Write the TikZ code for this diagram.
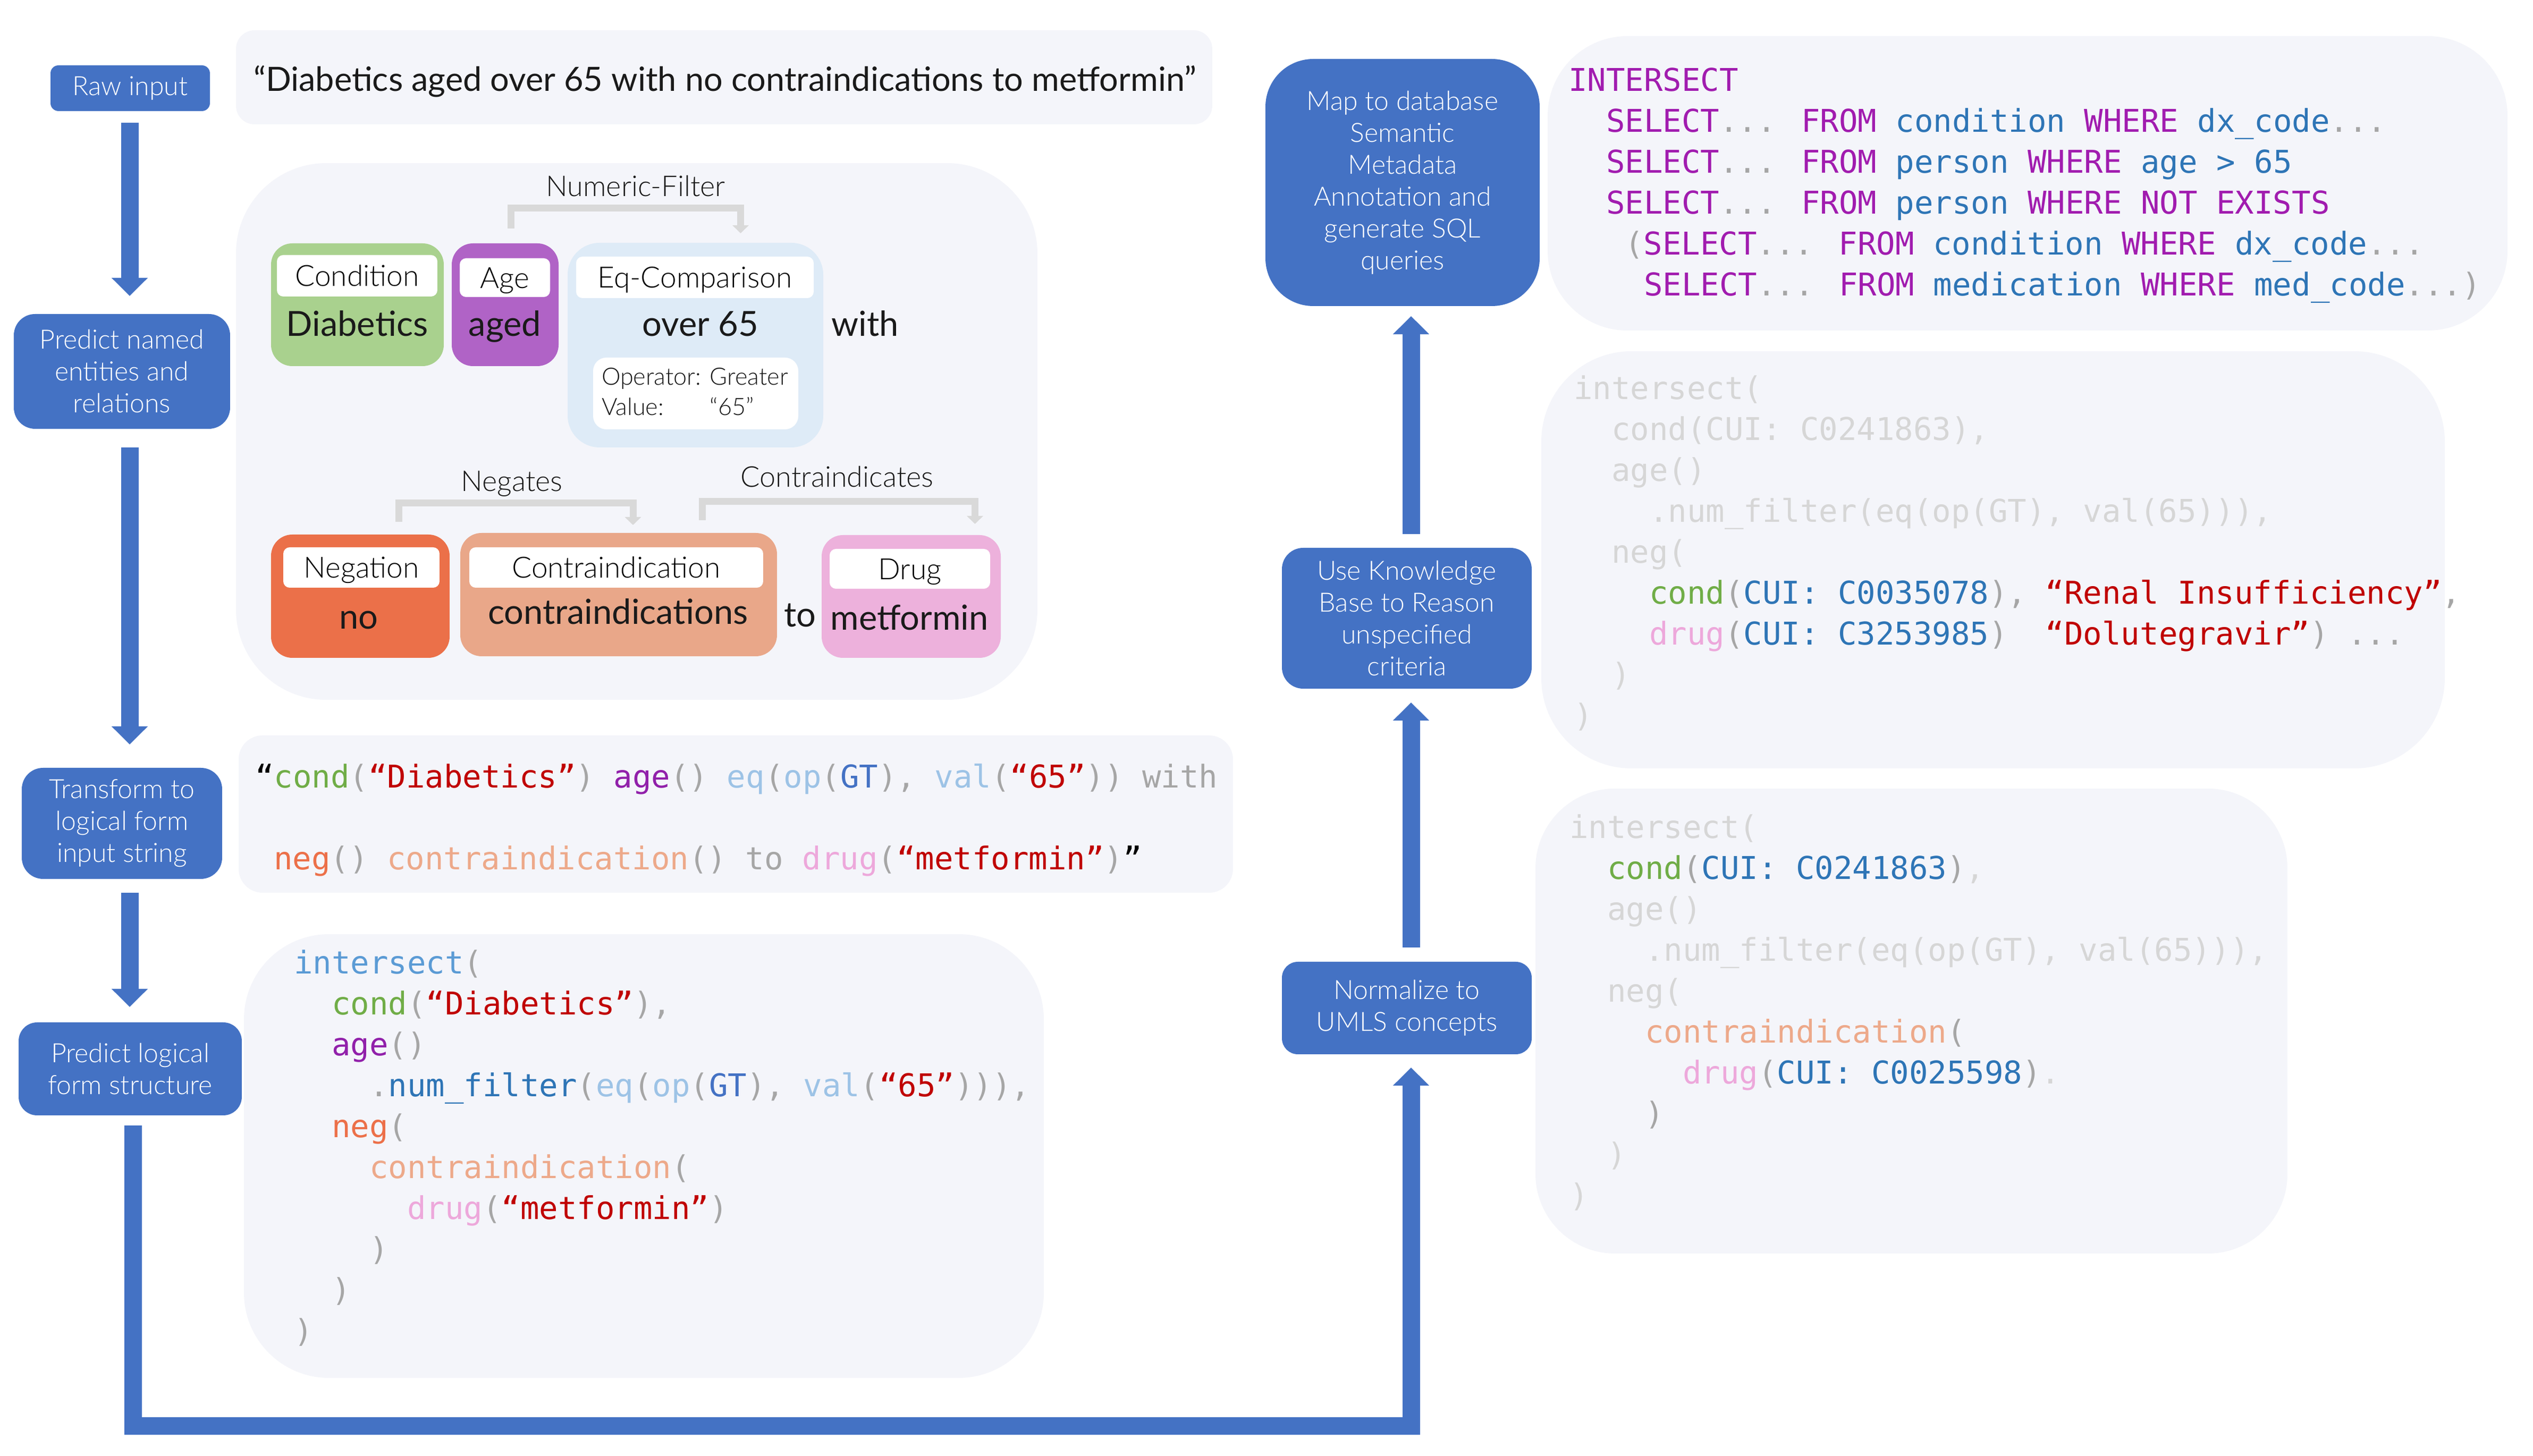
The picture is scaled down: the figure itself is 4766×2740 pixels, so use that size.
\documentclass[tikz,border=0pt]{standalone}
\usepackage{fontspec}
\setmainfont{Lato}
\newfontfamily\lightfont{Lato Light}
\newfontfamily\codefont{DejaVu Sans Mono}
\usetikzlibrary{arrows.meta}
\definecolor{cblue}{HTML}{4472C4}
\definecolor{cpanel}{HTML}{F4F5FA}
\definecolor{cgreenb}{HTML}{A9D18E}
\definecolor{cpurpleb}{HTML}{B063C6}
\definecolor{cblueb}{HTML}{DEEBF7}
\definecolor{corangeb}{HTML}{EB7049}
\definecolor{csalmonb}{HTML}{E9A789}
\definecolor{cpinkb}{HTML}{EDB1DC}
\definecolor{cbracket}{HTML}{D9D9D9}
\definecolor{cparen}{HTML}{A6A6A6}
\definecolor{clight}{HTML}{D6D6D6}
\definecolor{ccond}{HTML}{70AD47}
\definecolor{cstr}{HTML}{C00000}
\definecolor{cage}{HTML}{9120AA}
\definecolor{ceq}{HTML}{9DC3E6}
\definecolor{cgt}{HTML}{4472C4}
\definecolor{cneg}{HTML}{EC7049}
\definecolor{ccontra}{HTML}{EDA98A}
\definecolor{cdrug}{HTML}{EDA8DB}
\definecolor{cinter}{HTML}{5B9BD5}
\definecolor{cnumf}{HTML}{2E75B6}
\definecolor{ckw}{HTML}{A11CAF}
\definecolor{ctbl}{HTML}{2E75B6}
\definecolor{ctext}{HTML}{1A1A1A}
\newcommand\cPar[1]{\textcolor{cparen}{#1}}
\newcommand\cLt[1]{\textcolor{clight}{#1}}
\newcommand\cCnd[1]{\textcolor{ccond}{#1}}
\newcommand\cStr[1]{\textcolor{cstr}{#1}}
\newcommand\cAg[1]{\textcolor{cage}{#1}}
\newcommand\cEqc[1]{\textcolor{ceq}{#1}}
\newcommand\cGt[1]{\textcolor{cgt}{#1}}
\newcommand\cNg[1]{\textcolor{cneg}{#1}}
\newcommand\cCi[1]{\textcolor{ccontra}{#1}}
\newcommand\cDr[1]{\textcolor{cdrug}{#1}}
\newcommand\cIn[1]{\textcolor{cinter}{#1}}
\newcommand\cNf[1]{\textcolor{cnumf}{#1}}
\newcommand\cKw[1]{\textcolor{ckw}{#1}}
\newcommand\cTb[1]{\textcolor{ctbl}{#1}}
\begin{document}
\begin{tikzpicture}[x=0.1pt,y=-0.1pt,
  bluebox/.style={fill=cblue, text=white, align=center, inner sep=0pt, outer sep=0pt, font=\lightfont\fontsize{5}{6}\selectfont},
  panel/.style={fill=cpanel, inner sep=0pt, outer sep=0pt},
  ent/.style={inner sep=0pt, outer sep=0pt, rounded corners=4pt},
  tag/.style={fill=white, inner sep=0pt, outer sep=0pt, rounded corners=1.2pt, font=\lightfont\fontsize{5.5}{6}\selectfont, text height=4pt, text depth=0pt},
  word/.style={inner sep=0pt, anchor=base, text=ctext, font=\fontsize{6.5}{7}\selectfont},
  rel/.style={inner sep=0pt, anchor=base, text=ctext, font=\lightfont\fontsize{5.4}{6}\selectfont},
  small/.style={inner sep=0pt, anchor=base west, text=ctext, font=\lightfont\fontsize{4.5}{5.7}\selectfont},
  bracket/.style={draw=cbracket, line width=1.3pt, -{Triangle[width=3pt,length=1.5pt]}},
  flow/.style={draw=cblue, line width=3.3pt, line join=miter, -{Triangle[width=6.6pt,length=3.4pt]}},
  code/.style={inner sep=0pt, anchor=base west, font=\codefont\fontsize{5.9}{7}\selectfont}
]
\fill[white] (0,0) rectangle (4766,2740);
\useasboundingbox (0,0) rectangle (4766,2740);

% panels
\node[panel, rounded corners=3.5pt, minimum width=183.7pt, minimum height=17.7pt] (quotep) at (1362.5,145.5) {};
\node[panel, rounded corners=17pt, minimum width=150.8pt, minimum height=101pt] (nerp) at (1198,812) {};
\node[panel, rounded corners=4.5pt, minimum width=187.1pt, minimum height=29.6pt] (trp) at (1384.5,1532) {};
\node[panel, rounded corners=16pt, minimum width=150.5pt, minimum height=83.5pt] (lfp) at (1211.5,2175.5) {};
\node[panel, rounded corners=15pt, minimum width=180.6pt, minimum height=55.4pt] (sqlp) at (3815,345) {};
\node[panel, rounded corners=17pt, minimum width=170pt, minimum height=78.5pt] (kbp) at (3750,1053.5) {};
\node[panel, rounded corners=15pt, minimum width=141.5pt, minimum height=87.5pt] (umlsp) at (3596.5,1921.5) {};

% raw input sentence
\node[inner sep=0pt, anchor=base west, text=ctext, font=\fontsize{6.3}{7}\selectfont] (quote) at (475,172) {“Diabetics aged over 65 with no contraindications to metformin”};

% blue step boxes
\node[bluebox, rounded corners=1.5pt, minimum width=30pt, minimum height=8.6pt] (raw) at (245,166) {Raw input};
\node[bluebox, rounded corners=4pt, minimum width=40.7pt, minimum height=21.6pt] (ner) at (229.5,699) {Predict named\\entities and\\relations};
\node[bluebox, rounded corners=4pt, minimum width=37.7pt, minimum height=20.9pt] (transform) at (229.5,1549.5) {Transform to\\logical form\\input string};
\node[bluebox, rounded corners=3.5pt, minimum width=42pt, minimum height=17.5pt] (predict) at (245,2011.5) {Predict logical\\form structure};
\node[bluebox, rounded corners=9pt, minimum width=51.6pt, minimum height=46.5pt] (map) at (2639,343.5) {Map to database\\Semantic\\Metadata\\Annotation and\\generate SQL\\queries};
\node[bluebox, rounded corners=4pt, minimum width=47pt, minimum height=26.5pt] (usekb) at (2647,1163.5) {Use Knowledge\\Base to Reason\\unspecified\\criteria};
\node[bluebox, rounded corners=3pt, minimum width=47pt, minimum height=17.4pt] (normalize) at (2647,1897) {Normalize to\\UMLS concepts};

% flow arrows
\coordinate (colx) at (244,0);
\coordinate (b1) at (250,2684);
\coordinate (b2) at (2655,2684);
\draw[flow, shorten <=2.2pt, shorten >=3.4pt] (raw.south -| colx) -- (ner.north -| colx);
\draw[flow, shorten <=3.5pt, shorten >=4.4pt] (ner.south -| colx) -- (transform.north -| colx);
\draw[flow, shorten <=2.6pt, shorten >=2.9pt] (transform.south -| colx) -- (predict.north -| colx);
\draw[flow, shorten <=1.9pt, shorten >=2.5pt] (predict.south -| b1) -- (b1) -- (b2) -- (normalize.south -| b2);
\draw[flow, shorten <=2.7pt, shorten >=2.6pt] (normalize.north -| b2) -- (usekb.south -| b2);
\draw[flow, shorten <=2.6pt, shorten >=1.9pt] (usekb.north -| b2) -- (map.south -| b2);

% entity boxes, first row
\node[ent, fill=cgreenb, minimum width=32.5pt, minimum height=23.1pt] (cond) at (672.5,573.5) {};
\node[tag, minimum width=30.2pt, minimum height=7.8pt] (condtag) at (672,519) {Condition};
\node[word] (condw) at (672,633) {Diabetics};
\node[ent, fill=cpurpleb, minimum width=20.1pt, minimum height=23.1pt] (age) at (950.5,573.5) {};
\node[tag, minimum width=17pt, minimum height=7.3pt] (agetag) at (950,522.5) {Age};
\node[word] (agew) at (950,633) {aged};
\node[ent, fill=cblueb, rounded corners=6pt, minimum width=48.1pt, minimum height=38.5pt] (eq) at (1308.5,649.5) {};
\node[tag, minimum width=44.7pt, minimum height=7.8pt] (eqtag) at (1307.5,522) {Eq-Comparison};
\node[word] (eqw) at (1318,633) {over 65};
\node[fill=white, inner sep=0pt, outer sep=0pt, rounded corners=2.5pt, minimum width=38.6pt, minimum height=13.5pt] (eqbox) at (1309,740.5) {};
\node[small] (eqattr) at (1130,725) {\begin{tabular}[t]{@{}l@{ }l@{}}Operator: & Greater\\Value: & “65”\end{tabular}};
\node[word] (withw) at (1628,633) {with};

% entity boxes, second row
\node[ent, fill=corangeb, minimum width=33.6pt, minimum height=23.2pt] (neg) at (678,1122) {};
\node[tag, minimum width=29.4pt, minimum height=7.6pt] (negtag) at (680,1068) {Negation};
\node[word] (negw) at (675,1184) {no};
\node[ent, fill=csalmonb, minimum width=59.6pt, minimum height=23.2pt] (contra) at (1164,1119) {};
\node[tag, minimum width=55.3pt, minimum height=7.6pt] (contratag) at (1159.5,1068) {Contraindication};
\node[word] (contraw) at (1163,1175) {contraindications};
\node[word] (tow) at (1505,1180) {to};
\node[ent, fill=cpinkb, minimum width=33.7pt, minimum height=23.1pt] (drug) at (1714.5,1122.5) {};
\node[tag, minimum width=30.2pt, minimum height=7.5pt] (drugtag) at (1712,1070.5) {Drug};
\node[word] (drugw) at (1711,1186) {metformin};

% relations
\node[rel] (nfl) at (1196,370) {Numeric-Filter};
\node[rel] (ngl) at (963,925) {Negates};
\node[rel] (cil) at (1575,917) {Contraindicates};
\draw[bracket] ([xshift=1.05pt,yshift=2.8pt]age.north) -- ++(0,-38) -| ([xshift=8.5pt,yshift=1.8pt]eq.north);
\draw[bracket] ([xshift=7.2pt,yshift=2.4pt]neg.north) -- ++(0,-35) -| ([xshift=2.7pt,yshift=1.5pt]contra.north);
\draw[bracket] ([xshift=15.7pt,yshift=2.4pt]contra.north) -- ++(0,-35) -| ([xshift=12pt,yshift=2.1pt]drug.north);

% logical form input string
\node[code] (tr1) at (478,1483) {“\cCnd{cond}\cPar{(}\cStr{“Diabetics”}\cPar{)} \cAg{age}\cPar{()} \cEqc{eq}\cPar{(}\cEqc{op}\cPar{(}\cGt{GT}\cPar{),} \cEqc{val}\cPar{(}\cStr{“65”}\cPar{))} \cPar{with}};
\node[code] (tr2) at (513,1637) {\cNg{neg}\cPar{()} \cCi{contraindication}\cPar{()} \cPar{to} \cDr{drug}\cPar{(}\cStr{“metformin”}\cPar{)}”};

% logical form structure
\node[code] (lf1) at (551,1833) {\cIn{intersect}\cPar{(}};
\node[code] (lf2) at (622,1910) {\cCnd{cond}\cPar{(}\cStr{“Diabetics”}\cPar{),}};
\node[code] (lf3) at (622,1987) {\cAg{age}\cPar{()}};
\node[code] (lf4) at (693,2064) {\cPar{.}\cNf{num\_filter}\cPar{(}\cEqc{eq}\cPar{(}\cEqc{op}\cPar{(}\cGt{GT}\cPar{),} \cEqc{val}\cPar{(}\cStr{“65”}\cPar{))),}};
\node[code] (lf5) at (622,2141) {\cNg{neg}\cPar{(}};
\node[code] (lf6) at (693,2218) {\cCi{contraindication}\cPar{(}};
\node[code] (lf7) at (764,2295) {\cDr{drug}\cPar{(}\cStr{“metformin”}\cPar{)}};
\node[code] (lf8) at (693,2372) {\cPar{)}};
\node[code] (lf9) at (622,2449) {\cPar{)}};
\node[code] (lf10) at (551,2526) {\cPar{)}};

% SQL
\node[code] (s1) at (2949,172) {\cKw{INTERSECT}};
\node[code] (s2) at (3020,249) {\cKw{SELECT}\cPar{...} \cKw{FROM} \cTb{condition} \cKw{WHERE} \cTb{dx\_code}\cPar{...}};
\node[code] (s3) at (3020,326) {\cKw{SELECT}\cPar{...} \cKw{FROM} \cTb{person} \cKw{WHERE} \cTb{age > 65}};
\node[code] (s4) at (3020,403) {\cKw{SELECT}\cPar{...} \cKw{FROM} \cTb{person} \cKw{WHERE NOT EXISTS}};
\node[code] (s5) at (3055,480) {\cPar{(}\cKw{SELECT}\cPar{...} \cKw{FROM} \cTb{condition} \cKw{WHERE} \cTb{dx\_code}\cPar{...}};
\node[code] (s6) at (3091,557) {\cKw{SELECT}\cPar{...} \cKw{FROM} \cTb{medication} \cKw{WHERE} \cTb{med\_code}\cPar{...)}};

% knowledge base reasoning
\node[code] (k1) at (2959,752) {\cLt{intersect(}};
\node[code] (k2) at (3030,829) {\cLt{cond(CUI: C0241863),}};
\node[code] (k3) at (3030,906) {\cLt{age()}};
\node[code] (k4) at (3101,983) {\cLt{.num\_filter(eq(op(GT), val(65))),}};
\node[code] (k5) at (3030,1060) {\cLt{neg(}};
\node[code] (k6) at (3101,1137) {\cCnd{cond}\cPar{(}\cTb{CUI: C0035078}\cPar{),} \cStr{“Renal Insufficiency”}\cPar{,}};
\node[code] (k7) at (3101,1214) {\cDr{drug}\cPar{(}\cTb{CUI: C3253985}\cPar{)}\ \ \cStr{“Dolutegravir”}\cPar{) ...}};
\node[code] (k8) at (3030,1291) {\cLt{)}};
\node[code] (k9) at (2959,1368) {\cLt{)}};

% UMLS normalised
\node[code] (u1) at (2951,1578) {\cLt{intersect(}};
\node[code] (u2) at (3022,1655) {\cCnd{cond}\cPar{(}\cTb{CUI: C0241863}\cPar{)}\cLt{,}};
\node[code] (u3) at (3022,1732) {\cLt{age()}};
\node[code] (u4) at (3093,1809) {\cLt{.num\_filter(eq(op(GT), val(65))),}};
\node[code] (u5) at (3022,1886) {\cLt{neg(}};
\node[code] (u6) at (3093,1963) {\cCi{contraindication}\cPar{(}};
\node[code] (u7) at (3164,2040) {\cDr{drug}\cPar{(}\cTb{CUI: C0025598}\cPar{)}\cLt{.}};
\node[code] (u8) at (3093,2117) {\cPar{)}};
\node[code] (u9) at (3022,2194) {\cLt{)}};
\node[code] (u10) at (2951,2271) {\cLt{)}};
\end{tikzpicture}
\end{document}
